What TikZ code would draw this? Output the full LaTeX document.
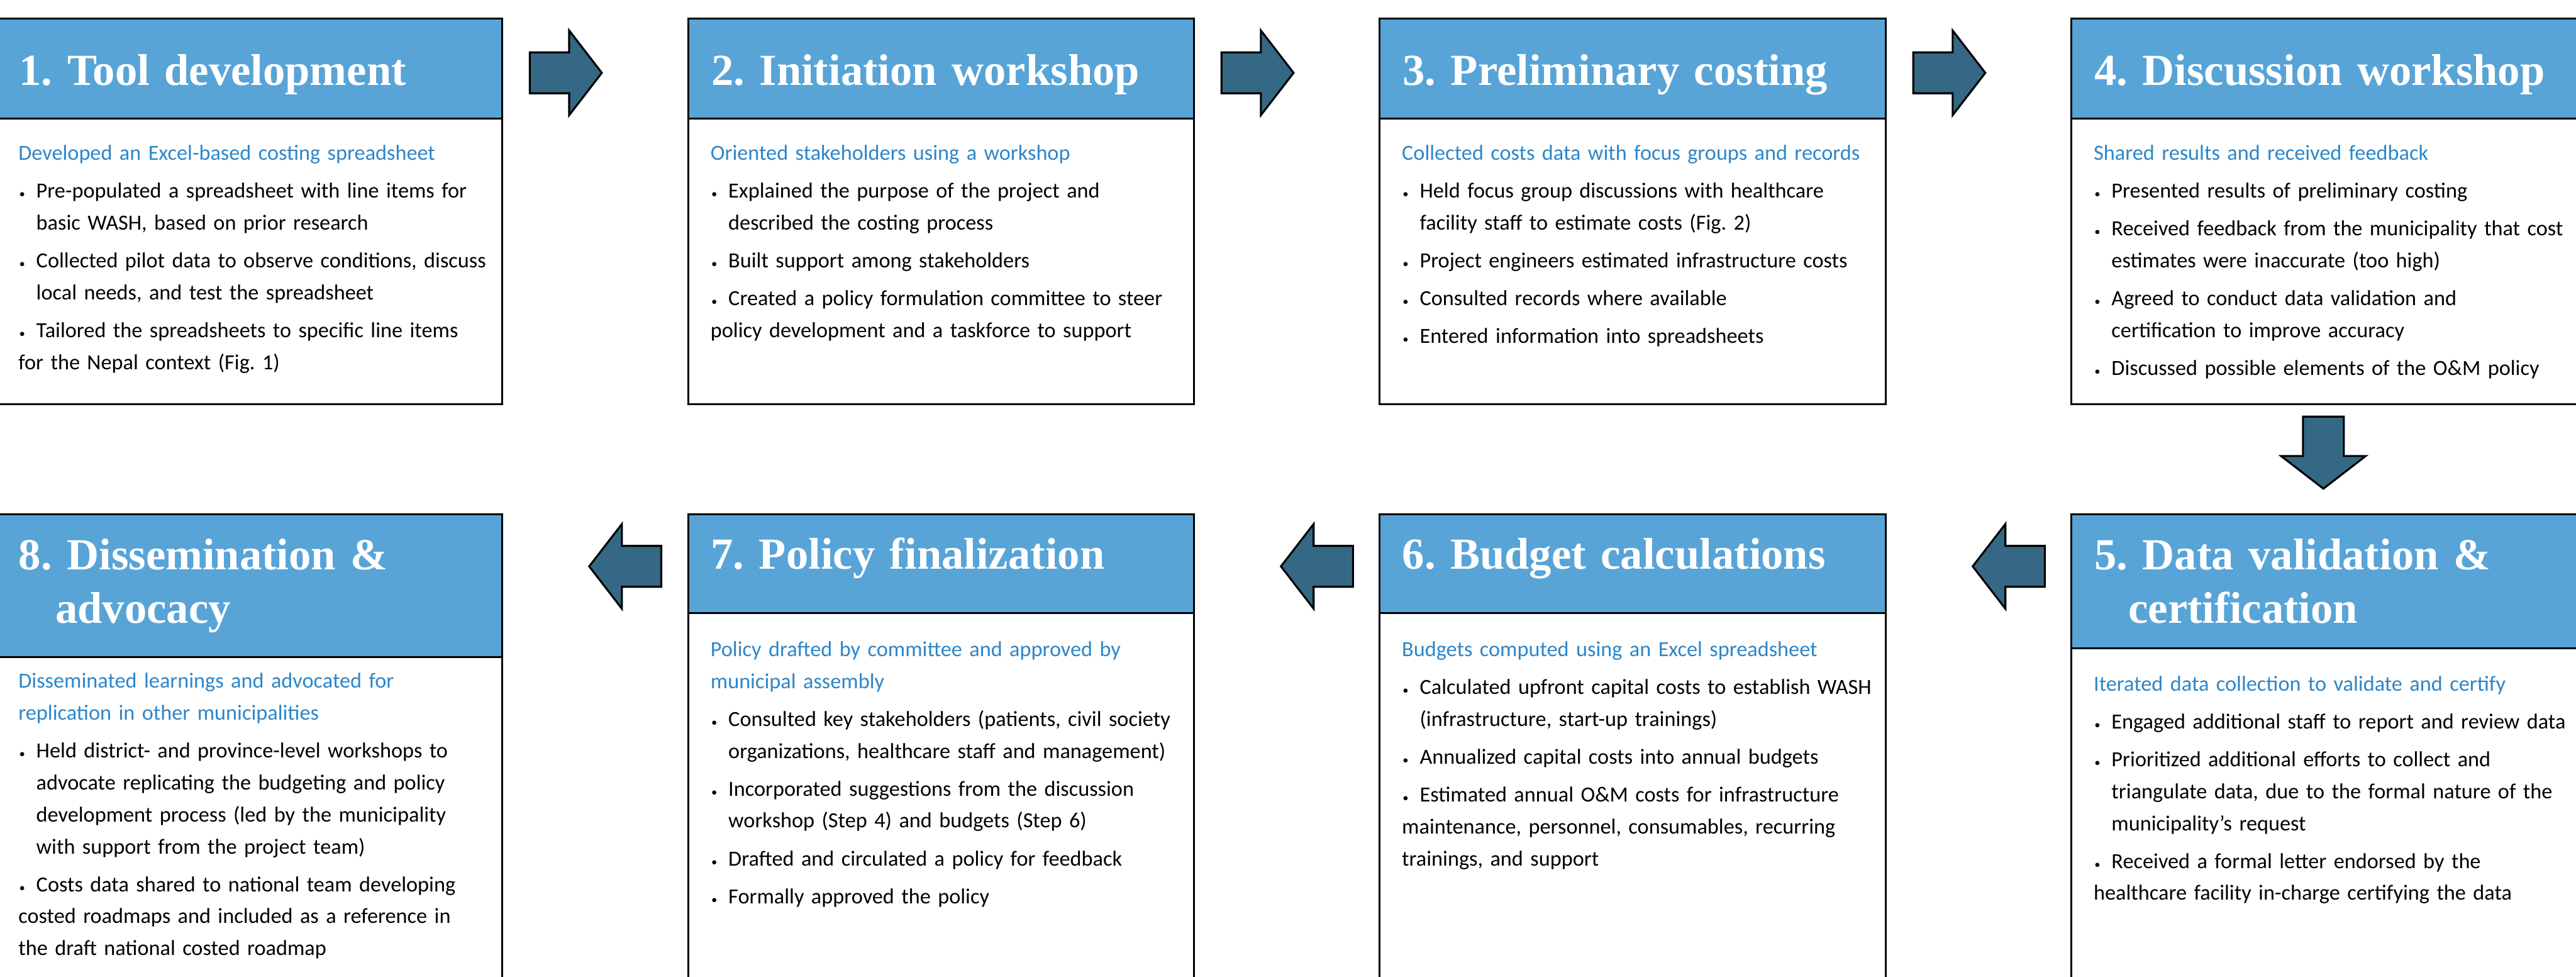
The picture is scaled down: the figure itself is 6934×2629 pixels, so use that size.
\documentclass[tikz,border=0pt]{standalone}
\usepackage{fontspec}
\setmainfont{Carlito}
\newfontfamily\headfont{Liberation Serif}
\frenchspacing
\definecolor{headblue}{RGB}{88,164,215}
\definecolor{subblue}{RGB}{46,134,200}
\definecolor{arrowteal}{RGB}{53,104,132}

% summary line and bullet points inside a box
\newcommand\subline[1]{{\color{subblue}#1}}
\newcommand\bpoint{\par\vspace{4.4pt}\noindent\hangindent=13.66pt\hangafter=1%
  \makebox[13.66pt][l]{\hspace{0.6pt}{\fontsize{9}{9}\selectfont\textbullet}}}

\tikzset{
  bodybox/.style={draw,line width=1.5pt,fill=white,anchor=north west,inner sep=0pt,minimum width=13.61cm},
  headbox/.style={bodybox,fill=headblue},
  headtext/.style={anchor=base west,inner sep=0pt,text width=12.8cm,align=left,text=white,
    font=\headfont\bfseries\fontsize{34}{41}\selectfont},
  bodytext/.style={anchor=base west,inner sep=0pt,text width=13.2cm,align=left,
    font=\fontsize{16.5}{24.5}\selectfont},
  pics/flowArrow/.style={code={
    \draw[line width=1.5pt,fill=arrowteal] (-97,-55) -- (9,-55) -- (9,-114) -- (97,0)
      -- (9,114) -- (9,55) -- (-97,55) -- cycle;}}
}

\begin{document}
\begin{tikzpicture}[x=0.01cm,y=-0.01cm]
  \useasboundingbox (0,0) rectangle (6934,2629);

  % top row: steps 1 to 4
  \node[bodybox,minimum height=10.36cm] (b1) at (-13,48) {};
  \node[headbox,minimum height=2.68cm] (h1) at (-13,48) {};
  \node[headtext] (t1) at (51,230) {1. Tool development};
  \node[bodytext] (s1) at (49,431) {\subline{Developed an Excel-based costing spreadsheet}
    \bpoint Pre-populated a spreadsheet with line items for\newline basic WASH, based on prior research
    \bpoint Collected pilot data to observe conditions, discuss\newline local needs, and test the spreadsheet
    \bpoint Tailored the spreadsheets to specific line items\newline for the Nepal context (Fig. 1)};

  \node[bodybox,minimum height=10.36cm] (b2) at (1850,48) {};
  \node[headbox,minimum height=2.68cm] (h2) at (1850,48) {};
  \node[headtext] (t2) at (1914,230) {2. Initiation workshop};
  \node[bodytext] (s2) at (1912,431) {\subline{Oriented stakeholders using a workshop}
    \bpoint Explained the purpose of the project and\newline described the costing process
    \bpoint Built support among stakeholders
    \bpoint Created a policy formulation committee to steer\newline policy development and a taskforce to support};

  \node[bodybox,minimum height=10.36cm] (b3) at (3711,48) {};
  \node[headbox,minimum height=2.68cm] (h3) at (3711,48) {};
  \node[headtext] (t3) at (3775,230) {3. Preliminary costing};
  \node[bodytext] (s3) at (3773,431) {\subline{Collected costs data with focus groups and records}
    \bpoint Held focus group discussions with healthcare\newline facility staff to estimate costs (Fig. 2)
    \bpoint Project engineers estimated infrastructure costs
    \bpoint Consulted records where available
    \bpoint Entered information into spreadsheets};

  \node[bodybox,minimum height=10.36cm] (b4) at (5573,48) {};
  \node[headbox,minimum height=2.68cm] (h4) at (5573,48) {};
  \node[headtext] (t4) at (5637,230) {4. Discussion workshop};
  \node[bodytext] (s4) at (5635,431) {\subline{Shared results and received feedback}
    \bpoint Presented results of preliminary costing
    \bpoint Received feedback from the municipality that cost\newline estimates were inaccurate (too high)
    \bpoint Agreed to conduct data validation and\newline certification to improve accuracy
    \bpoint Discussed possible elements of the O\&M policy};

  \pic (a12) at (1523,196) {flowArrow};
  \pic (a23) at (3385,196) {flowArrow};
  \pic (a34) at (5247,196) {flowArrow};
  \pic[rotate=-90] (a45) at (6254,1218) {flowArrow};

  % bottom row: steps 8 to 5, boxes run past the lower edge
  \node[bodybox,minimum height=13.2cm] (b5) at (5573,1382) {};
  \node[headbox,minimum height=3.59cm] (h5) at (5573,1382) {};
  \node[headtext] (t5) at (5637,1533) {5. Data validation \&\\\hspace*{26pt}certification};
  \node[bodytext] (s5) at (5635,1859) {\subline{Iterated data collection to validate and certify}
    \bpoint Engaged additional staff to report and review data
    \bpoint Prioritized additional efforts to collect and\newline triangulate data, due to the formal nature of the\newline municipality’s request
    \bpoint Received a formal letter endorsed by the\newline healthcare facility in-charge certifying the data};

  \node[bodybox,minimum height=13.2cm] (b6) at (3711,1382) {};
  \node[headbox,minimum height=2.65cm] (h6) at (3711,1382) {};
  \node[headtext] (t6) at (3774,1531) {6. Budget calculations};
  \node[bodytext] (s6) at (3773,1766) {\subline{Budgets computed using an Excel spreadsheet}
    \bpoint Calculated upfront capital costs to establish WASH\newline (infrastructure, start-up trainings)
    \bpoint Annualized capital costs into annual budgets
    \bpoint Estimated annual O\&M costs for infrastructure\newline maintenance, personnel, consumables, recurring\newline trainings, and support};

  \node[bodybox,minimum height=13.2cm] (b7) at (1850,1382) {};
  \node[headbox,minimum height=2.65cm] (h7) at (1850,1382) {};
  \node[headtext] (t7) at (1913,1531) {7. Policy finalization};
  \node[bodytext] (s7) at (1912,1766) {\subline{Policy drafted by committee and approved by\newline municipal assembly}
    \bpoint Consulted key stakeholders (patients, civil society\newline organizations, healthcare staff and management)
    \bpoint Incorporated suggestions from the discussion\newline workshop (Step 4) and budgets (Step 6)
    \bpoint Drafted and circulated a policy for feedback
    \bpoint Formally approved the policy};

  \node[bodybox,minimum height=13.2cm] (b8) at (-13,1382) {};
  \node[headbox,minimum height=3.84cm] (h8) at (-13,1382) {};
  \node[headtext] (t8) at (50,1533) {8. Dissemination \&\\\hspace*{28pt}advocacy};
  \node[bodytext] (s8) at (49,1851) {\subline{Disseminated learnings and advocated for\newline replication in other municipalities}
    \bpoint Held district- and province-level workshops to\newline advocate replicating the budgeting and policy\newline development process (led by the municipality\newline with support from the project team)
    \bpoint Costs data shared to national team developing\newline costed roadmaps and included as a reference in\newline the draft national costed roadmap};

  \pic[rotate=180] (a56) at (5407,1524) {flowArrow};
  \pic[rotate=180] (a67) at (3545,1524) {flowArrow};
  \pic[rotate=180] (a78) at (1683,1524) {flowArrow};
\end{tikzpicture}
\end{document}
